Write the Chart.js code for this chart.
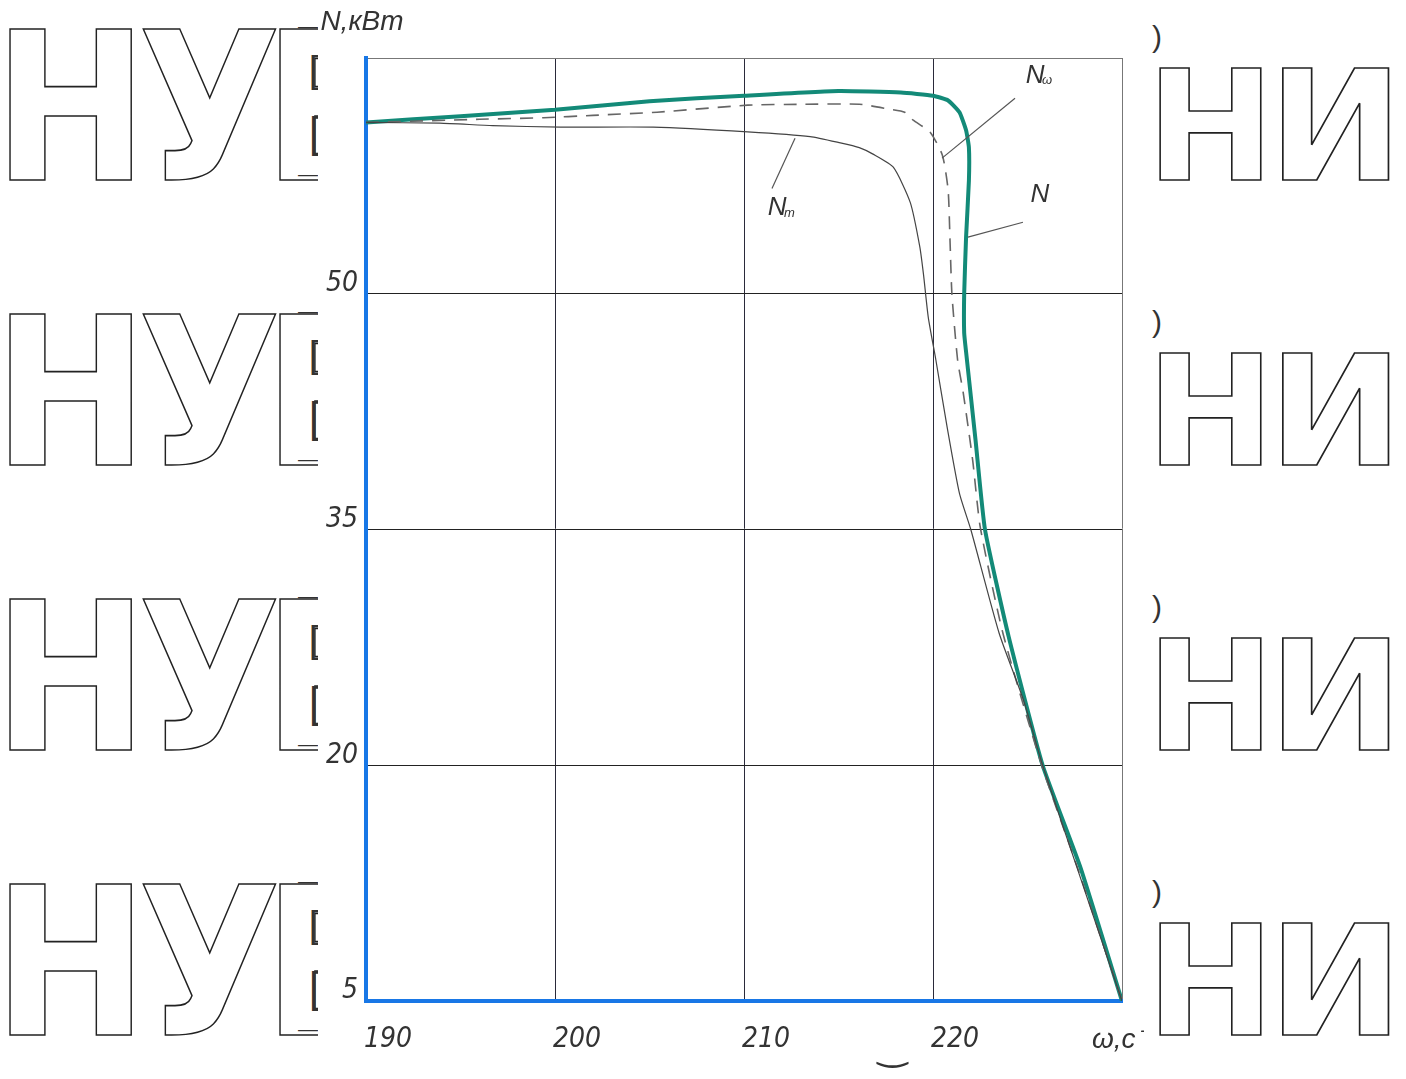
<!DOCTYPE html>
<html>
<head>
<meta charset="utf-8">
<script src="https://cdn.jsdelivr.net/npm/chart.js@4.4.1/dist/chart.umd.min.js"></script>
<style>
  html, body { margin: 0; padding: 0; background: #fff; }
  body { width: 1406px; height: 1079px; position: relative; overflow: hidden; }
  .wm { position: absolute; font-family: 'DejaVu Sans', sans-serif; font-weight: bold; line-height: 1;
        color: #fff; -webkit-text-stroke: 1.6px #222; transform-origin: left top; white-space: nowrap; }
  .frag { position: absolute; font-family: 'Liberation Sans', sans-serif; color: #333; line-height: 1; }
  #wrap { position: absolute; left: 318px; top: 0; width: 826px; height: 1079px; background: #fff; z-index: 1; }
  .top { z-index: 2; font-family: 'DejaVu Sans', sans-serif; }
</style>
</head>
<body>
<div id="marks"></div>
<div id="wrap"><canvas id="chart"></canvas></div>
<script>
// power curves N, Nω, Nт vs angular speed ω
const xTicks = [190, 200, 210, 220, 230];
const yTicks = [5, 20, 35, 50, 65];

const nX = [190, 195, 200, 205, 210, 215, 218.3, 220.0, 220.8, 221.4, 221.75, 221.9, 221.9, 221.75, 221.65, 221.65, 221.75, 222.25, 222.75, 224.0, 225.8, 227.8, 230];
const nY = [60.9, 61.3, 61.7, 62.25, 62.6, 62.9, 62.8, 62.6, 62.3, 61.55, 60.4, 59.3, 57.2, 53.6, 50.0, 47.5, 46.3, 40.7, 35.0, 28.2, 20.0, 13.5, 5];

const wX = [190, 196, 199.4, 202, 205.4, 210.2, 213, 216.1, 217.7, 218.5, 218.95, 219.85, 220.5, 220.8, 220.9, 221.0, 221.3, 221.6, 222.1, 222.5, 223.7, 225.75, 227.7, 230];
const wY = [60.9, 61.1, 61.2, 61.35, 61.55, 62.0, 62.05, 62.06, 61.74, 61.55, 61.04, 60.28, 58.8, 56.6, 53.4, 50.0, 45.8, 43.7, 39.4, 35.15, 28.4, 20.0, 13.3, 5];

const tX = [190, 193.9, 196.7, 200.3, 205.2, 210.2, 213.5, 215.1, 216.1, 216.8, 217.9, 218.8, 219.3, 219.5, 219.75, 220.15, 220.75, 221.4, 222.0, 223.5, 224.8, 225.8, 227.7, 230];
const tY = [60.9, 60.85, 60.7, 60.6, 60.6, 60.3, 60.0, 59.6, 59.3, 58.9, 58.05, 55.8, 53.0, 51.2, 48.5, 45.8, 41.5, 37.3, 35.0, 28.4, 24.1, 20.0, 13.2, 5];

const toPts = (xs, ys) => xs.map((v, i) => ({ x: v, y: ys[i] }));

// background watermark letters (outlined)
const marks = document.getElementById('marks');
function addWm(ch, left, top, size, sx) {
  const s = document.createElement('span');
  s.className = 'wm';
  s.textContent = ch;
  s.style.left = left + 'px';
  s.style.top = top + 'px';
  s.style.fontSize = size + 'px';
  s.style.transform = 'scaleX(' + sx + ')';
  marks.appendChild(s);
  return s;
}
function addFrag(ch, left, top, size) {
  const s = document.createElement('span');
  s.className = 'frag';
  s.textContent = ch;
  s.style.left = left + 'px';
  s.style.top = top + 'px';
  s.style.fontSize = size + 'px';
  marks.appendChild(s);
  return s;
}
for (let r = 0; r < 4; r++) {
  const dy = r * 285;
  addWm('Н', -7, 6 + dy, 206, 0.9);
  addWm('У', 138, 6 + dy, 206, 0.9);
  addWm('Б', 263, 6 + dy, 206, 0.9);
  addWm('Н', 1146, 50 + dy, 154, 1.0);
  addWm('И', 1268, 50 + dy, 154, 1.05);
  addFrag('[', 309, 52 + dy, 36);
  addFrag('[', 309, 112 + dy, 42);
  addFrag('—', 298, 16 + dy, 20);
  addFrag('—', 298, 164 + dy, 20);
  addFrag(')', 1152, 22 + dy, 30);
}
addFrag('‿', 878, 1030, 36).classList.add('top');

const callouts = [
  { text: 'N', sub: '', lx: 225.66, ly: 56.3, from: [221.85, 53.6], to: [224.76, 54.55] },
  { text: 'N', sub: 'ω', lx: 225.4, ly: 63.9, from: [220.48, 58.63], to: [224.34, 62.44] },
  { text: 'N', sub: 'т', lx: 211.75, ly: 55.45, from: [212.7, 59.9], to: [211.48, 56.7] }
];

const tickFont = { family: "'Liberation Sans Narrow', 'DejaVu Sans Condensed', sans-serif", size: 28, style: 'italic' };

const extras = {
  id: 'extras',
  afterDatasetsDraw(chart) {
    const { ctx, scales: { x, y }, chartArea } = chart;
    ctx.save();
    ctx.strokeStyle = '#555';
    ctx.lineWidth = 1.2;
    callouts.forEach(c => {
      ctx.beginPath();
      ctx.moveTo(x.getPixelForValue(c.from[0]), y.getPixelForValue(c.from[1]));
      ctx.lineTo(x.getPixelForValue(c.to[0]), y.getPixelForValue(c.to[1]));
      ctx.stroke();
      const px = x.getPixelForValue(c.lx), py = y.getPixelForValue(c.ly);
      ctx.fillStyle = '#333';
      ctx.font = "italic 26px 'Liberation Sans Narrow', sans-serif";
      ctx.textAlign = 'center';
      ctx.textBaseline = 'middle';
      ctx.fillText(c.text, px, py);
      if (c.sub) {
        ctx.font = "italic 13px 'Liberation Sans Narrow', sans-serif";
        ctx.textAlign = 'left';
        ctx.fillText(c.sub, px + 7, py + 5);
      }
    });
    ctx.fillStyle = '#333';
    ctx.font = "italic 28px 'Liberation Sans Narrow', sans-serif";
    ctx.textAlign = 'center';
    ctx.textBaseline = 'middle';
    ctx.fillText('N,кВт', chartArea.left - 4, 22);
    ctx.textAlign = 'left';
    ctx.fillText('ω,с⁻¹', chartArea.right - 30, 1040);
    ctx.restore();
  }
};

new Chart(document.getElementById('chart'), {
  type: 'scatter',
  data: {
    datasets: [
      { label: 'Nт', data: toPts(tX, tY), showLine: true, borderColor: '#444', borderWidth: 1.2, pointRadius: 0, tension: 0.2 },
      { label: 'Nω', data: toPts(wX, wY), showLine: true, borderColor: '#666', borderWidth: 1.6, borderDash: [13, 9], pointRadius: 0, tension: 0.2 },
      { label: 'N', data: toPts(nX, nY), showLine: true, borderColor: '#138a78', borderWidth: 4, pointRadius: 0, tension: 0.15 }
    ]
  },
  options: {
    responsive: true,
    maintainAspectRatio: false,
    animation: false,
    layout: { padding: { top: 58, right: 0, left: 0, bottom: 0 } },
    plugins: { legend: { display: false }, tooltip: { enabled: false } },
    scales: {
      x: {
        type: 'linear', min: 190, max: 230,
        afterBuildTicks: s => { s.ticks = xTicks.map(v => ({ value: v })); },
        afterFit: s => { s.height = 78; },
        grid: { color: ctx => ctx.tick && ctx.tick.value === 230 ? '#777' : '#2a2a3a', lineWidth: 1, drawTicks: false },
        border: { color: '#1877e6', width: 4 },
        ticks: {
          color: '#333', font: tickFont,
          padding: 22, labelOffset: 22, maxRotation: 0,
          callback: v => v === 230 ? '' : v
        }
      },
      y: {
        type: 'linear', min: 5, max: 65,
        afterBuildTicks: s => { s.ticks = yTicks.map(v => ({ value: v })); },
        afterFit: s => { s.width = 48; },
        grid: { color: ctx => ctx.tick && ctx.tick.value === 65 ? '#777' : '#222', lineWidth: 1, drawTicks: false },
        border: { color: '#1877e6', width: 4 },
        ticks: {
          color: '#333', font: tickFont,
          padding: 8, labelOffset: -10,
          callback: v => v === 65 ? '' : v
        }
      }
    }
  },
  plugins: [extras]
});
</script>
</body>
</html>
